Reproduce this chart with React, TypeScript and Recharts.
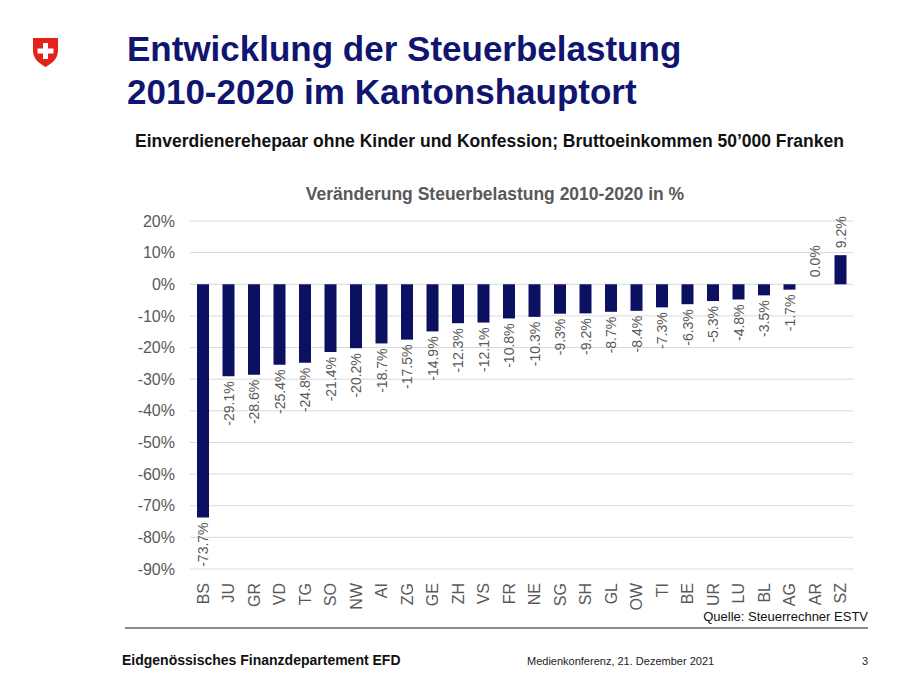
import React from "react";
import { BarChart, Bar, XAxis, YAxis, CartesianGrid, LabelList } from "recharts";

const cantons = ["BS", "JU", "GR", "VD", "TG", "SO", "NW", "AI", "ZG", "GE", "ZH", "VS", "FR", "NE", "SG", "SH", "GL", "OW", "TI", "BE", "UR", "LU", "BL", "AG", "AR", "SZ"];
const changes = [-73.7, -29.1, -28.6, -25.4, -24.8, -21.4, -20.2, -18.7, -17.5, -14.9, -12.3, -12.1, -10.8, -10.3, -9.3, -9.2, -8.7, -8.4, -7.3, -6.3, -5.3, -4.8, -3.5, -1.7, 0.0, 9.2];
const yTicks = [-90, -80, -70, -60, -50, -40, -30, -20, -10, 0, 10, 20];

const data = cantons.map((c, i) => ({ canton: c, value: changes[i] }));

const FONT = "'Liberation Sans', Arial, sans-serif";
const NAVY = "#0b1160";
const GREY = "#595959";

const CantonTick = (props: any) => {
  const { x, y, payload } = props;
  return (
    <text
      x={x}
      y={y + 6}
      dy="0.36em"
      transform={`rotate(-90, ${x}, ${y + 6})`}
      textAnchor="end"
      fontSize={16}
      fontFamily={FONT}
      fill={GREY}
    >
      {payload.value}
    </text>
  );
};

const ValueLabel = (props: any) => {
  const { x, y, width, height, value } = props;
  const cx = x + width / 2;
  const top = Math.min(y, y + height);
  const bottom = Math.max(y, y + height);
  const neg = value < 0;
  const ay = neg ? bottom + 5 : top - 7;
  return (
    <text
      x={cx}
      y={ay}
      dy="0.36em"
      transform={`rotate(-90, ${cx}, ${ay})`}
      textAnchor={neg ? "end" : "start"}
      fontSize={14}
      fontFamily={FONT}
      fill={GREY}
    >
      {Number(value).toFixed(1) + "%"}
    </text>
  );
};

export default function App() {
  return (
    <div style={{ position: "absolute", left: 0, top: 0, width: 900, height: 675, background: "#fff", fontFamily: FONT, overflow: "hidden" }}>
      <svg style={{ position: "absolute", left: 32, top: 37 }} width={27} height={31} viewBox="0 0 27 31">
        <path d="M1 1 H26 V14 C26 22 19 27 13.5 30 C8 27 1 22 1 14 Z" fill="#e2231a" />
        <rect x={11} y={6} width={5} height={16} fill="#fff" />
        <rect x={5.5} y={11.5} width={16} height={5} fill="#fff" />
      </svg>
      <div style={{ position: "absolute", left: 127, top: 27, fontSize: 35, fontWeight: "bold", color: "#101670", lineHeight: "43px", whiteSpace: "nowrap" }}>
        Entwicklung der Steuerbelastung
        <br />
        2010-2020 im Kantonshauptort
      </div>
      <div style={{ position: "absolute", left: 135, top: 131, fontSize: 17.5, fontWeight: "bold", color: "#111", whiteSpace: "nowrap" }}>
        Einverdienerehepaar ohne Kinder und Konfession; Bruttoeinkommen 50’000 Franken
      </div>
      <div style={{ position: "absolute", left: 0, width: 990, top: 184, textAlign: "center", fontSize: 17.5, fontWeight: "bold", color: GREY }}>
        Veränderung Steuerbelastung 2010-2020 in %
      </div>
      <div style={{ position: "absolute", left: 0, top: 0 }}>
        <BarChart width={900} height={675} data={data} margin={{ top: 221, right: 47, bottom: 0, left: 0 }} barSize={12}>
          <CartesianGrid vertical={false} stroke="#d9d9d9" />
          <XAxis dataKey="canton" interval={0} axisLine={false} tickLine={false} height={106} tick={<CantonTick />} />
          <YAxis
            width={190}
            domain={[-90, 20]}
            ticks={yTicks}
            interval={0}
            axisLine={false}
            tickLine={false}
            tickMargin={9}
            tickFormatter={(v: number) => v + "%"}
            tick={{ fontSize: 16, fill: GREY, fontFamily: FONT }}
          />
          <Bar dataKey="value" fill={NAVY} minPointSize={0.01} isAnimationActive={false}>
            <LabelList dataKey="value" content={<ValueLabel />} />
          </Bar>
        </BarChart>
      </div>
      <div style={{ position: "absolute", right: 32, top: 609, fontSize: 13, color: "#111" }}>Quelle: Steuerrechner ESTV</div>
      <div style={{ position: "absolute", left: 125, top: 627, width: 743, height: 2, background: "#8c8c8c" }} />
      <div style={{ position: "absolute", left: 122, top: 652, fontSize: 14, fontWeight: "bold", color: "#111" }}>Eidgenössisches Finanzdepartement EFD</div>
      <div style={{ position: "absolute", left: 527, top: 655, fontSize: 11, color: "#222" }}>Medienkonferenz, 21. Dezember 2021</div>
      <div style={{ position: "absolute", left: 862, top: 655, fontSize: 11, color: "#222" }}>3</div>
    </div>
  );
}
